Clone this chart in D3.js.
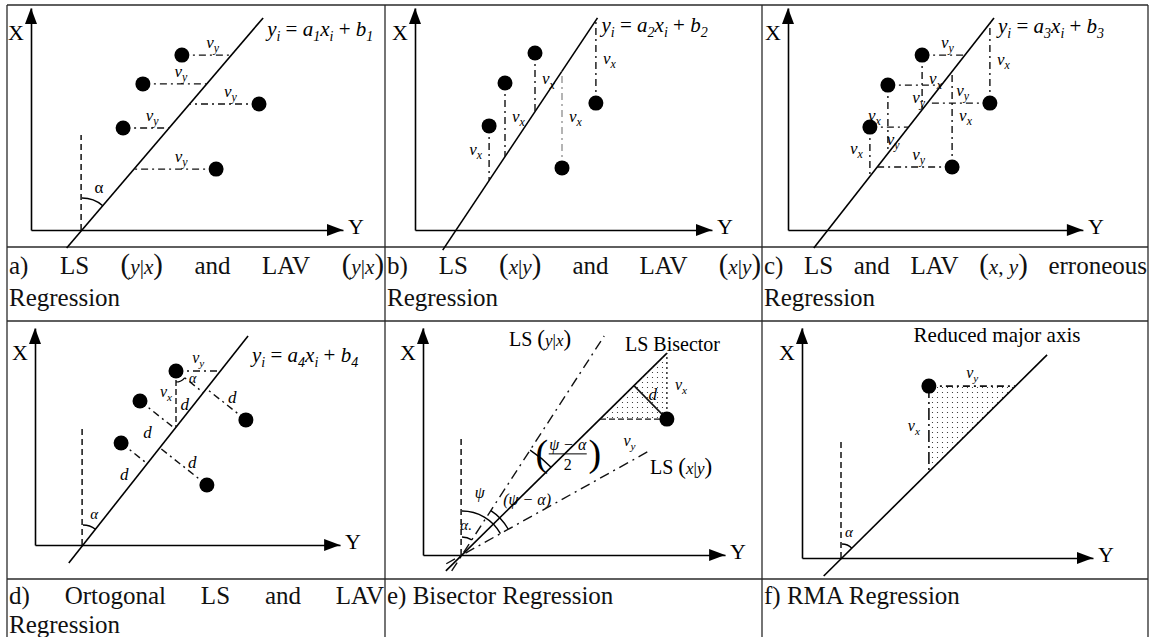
<!DOCTYPE html>
<html>
<head>
<meta charset="utf-8">
<script src="https://cdn.jsdelivr.net/npm/d3@7"></script>
<style>
body { margin: 0; background: #fff; }
svg { display: block; font-family: "Liberation Serif", "Times New Roman", serif; }
</style>
</head>
<body>
<svg width="1153" height="637"></svg>
<script>
// ---- data (panel units; horizontal = Y axis, vertical = X axis) ----
const ptsA = [[5.03, 5.83], [3.73, 4.87], [7.6, 4.2], [3.07, 3.4], [6.17, 2.03]];
const ptsB = [[4.0, 5.9], [3.0, 4.9], [2.47, 3.47], [6.03, 4.23], [4.9, 2.07]];
const ptsC = [[4.47, 5.83], [3.33, 4.83], [6.73, 4.23], [2.73, 3.43], [5.47, 2.1]];
const ptsD = [[4.7, 5.8], [3.5, 4.8], [7.03, 4.17], [2.87, 3.4], [5.73, 2.0]];
const ptsE = [[8.13, 4.53]];
const ptsF = [[4.23, 5.73]];

const slopes = [1.171, 1.5, 1.277, 1.267, 0.985, 0.99];
const crossings = [1.7, 1.37, 1.33, 1.6, 1.3, 1.33];
const lineEnds = [[-0.6, 7.07], [-0.67, 7.07], [-0.6, 7.07], [-0.6, 6.97], [-0.53, 6.73], [-0.6, 6.77]];
const lsYX = { slope: 1.54, top: 7.3 };
const lsXY = { slope: 0.556, top: 3.47 };
const axisLen = [[10.4, 7.4], [9.9, 7.4], [9.83, 7.4], [10.17, 7.23], [10.07, 7.57], [9.7, 7.67]];
const guideTop = [3.17, null, null, 3.97, 3.97, 3.9];
const eqIndex = ['1', '2', '3', '4'];

const capWords = [
  ['a)', 'LS', '(y|x)', 'and', 'LAV', '(y|x)'],
  ['b)', 'LS', '(x|y)', 'and', 'LAV', '(x|y)'],
  ['c)', 'LS', 'and', 'LAV', '(x, y)', 'erroneous'],
  ['d)', 'Ortogonal', 'LS', 'and', 'LAV'],
  ['e) Bisector Regression'],
  ['f) RMA Regression']
];
const capLine2 = ['Regression', 'Regression', 'Regression', 'Regression', '', ''];

// ---- layout ----
const unit = 30;
const origins = [[31, 230], [415, 230], [788, 230], [35, 545], [423, 555], [802, 558]];
const cols = [7, 385, 762, 1148];
const rows = [5, 247, 321, 579, 637];
const capBase = [[274, 306], [604, 633]];
const eqDy = [18, 14, 15, 26];
const vySide = [[-1, -1, -1, -1, -1], null, [-1, 1, -1, 1, -1]];
const vxSide = [null, [1, 1, -1, 1, 1], [1, -1, 1, -1, 1]];
const dNudge = [[-5, 23], [-10, 18], [6, -6], [-10, 22], [9, -3]];
const dashDot = '7,4,2,4';

const svg = d3.select('svg');
const defs = svg.append('defs');
defs.append('pattern').attr('id', 'dots').attr('width', 5).attr('height', 5)
  .attr('patternUnits', 'userSpaceOnUse')
  .append('circle').attr('cx', 2.5).attr('cy', 2.5).attr('r', 0.6).attr('fill', '#222');

// table
const grid = svg.append('g').attr('stroke', '#2a2a2a').attr('stroke-width', 1.3);
cols.forEach(x => grid.append('line').attr('x1', x).attr('x2', x).attr('y1', rows[0]).attr('y2', 637));
rows.slice(0, 4).forEach(y => grid.append('line').attr('x1', cols[0]).attr('x2', cols[3]).attr('y1', y).attr('y2', y));

function seg(g, xs, ys, a, b, dash, w = 1.4, col = '#111') {
  return g.append('line')
    .attr('x1', xs(a[0])).attr('y1', ys(a[1]))
    .attr('x2', xs(b[0])).attr('y2', ys(b[1]))
    .attr('stroke', col).attr('stroke-width', w)
    .attr('stroke-dasharray', dash || null);
}

function vlab(g, x, y, sub, anchor = 'middle', size = 17) {
  const t = g.append('text').attr('x', x).attr('y', y).attr('text-anchor', anchor)
    .attr('font-style', 'italic').attr('font-size', size);
  t.append('tspan').text('v');
  t.append('tspan').attr('font-size', size * 0.7).attr('dy', size * 0.25).text(sub);
  return t;
}

function mathWord(t, w, size) {
  for (const ch of w) {
    const s = t.append('tspan');
    if (ch === '(' || ch === ')') s.attr('font-size', size * 1.15).attr('font-weight', 300).text(ch);
    else if (/[a-z]/.test(ch)) s.attr('font-style', 'italic').attr('font-size', size * 0.85).text(ch);
    else s.attr('font-size', size * 0.85).text(ch === ' ' ? '\u00a0' : ch);
  }
}

function equation(g, x, y, k) {
  const t = g.append('text').attr('x', x).attr('y', y).attr('font-size', 21);
  const parts = [['y', 'i'], ['i', 's'], [' = ', 'n'], ['a', 'i'], [k, 's'], ['x', 'i'], ['i', 's'], [' + ', 'n'], ['b', 'i'], [k, 's']];
  let sub = false;
  parts.forEach(([txt, kind]) => {
    const s = t.append('tspan').text(txt.replace(/ /g, '\u00a0'));
    if (kind === 's') { s.attr('font-size', 14).attr('font-style', 'italic'); if (!sub) s.attr('dy', 5); sub = true; }
    else {
      if (kind === 'i') s.attr('font-style', 'italic');
      if (sub) s.attr('dy', -5);
      sub = false;
    }
  });
}

function arcPath(r, a0, a1) {
  return d3.arc().innerRadius(r).outerRadius(r).startAngle(a0).endAngle(a1)();
}
const dirAngle = m => Math.atan2(1, m);
const rad = d => d * Math.PI / 180;

function foot(m, c, p) {
  const uf = (p[0] + m * (p[1] + m * c)) / (1 + m * m);
  return [uf, m * (uf - c)];
}

const panels = origins.map(([ox, oy], i) => {
  const g = svg.append('g');
  const xs = d3.scaleLinear().domain([0, axisLen[i][0]]).range([ox, ox + axisLen[i][0] * unit]);
  const ys = d3.scaleLinear().domain([0, axisLen[i][1]]).range([oy, oy - axisLen[i][1] * unit]);
  // axes
  g.append('g').attr('transform', `translate(0,${oy})`)
    .call(d3.axisBottom(xs).tickValues([]).tickSizeOuter(0))
    .select('.domain').attr('stroke', '#000').attr('stroke-width', 1.6);
  g.append('g').attr('transform', `translate(${ox},0)`)
    .call(d3.axisLeft(ys).tickValues([]).tickSizeOuter(0))
    .select('.domain').attr('stroke', '#000').attr('stroke-width', 1.6);
  const tipX = xs.range()[1], tipY = ys.range()[1];
  g.append('path').attr('d', `M${tipX},${oy}L${tipX - 16},${oy - 6}L${tipX - 16},${oy + 6}Z`);
  g.append('path').attr('d', `M${ox},${tipY}L${ox - 6},${tipY + 16}L${ox + 6},${tipY + 16}Z`);
  g.append('text').attr('x', ox - 15).attr('y', tipY + 32).attr('text-anchor', 'middle').attr('font-size', 22).text('X');
  g.append('text').attr('x', tipX + 5).attr('y', oy + 4).attr('font-size', 22).text('Y');
  // dashed guide
  if (guideTop[i] !== null) {
    seg(g, xs, ys, [crossings[i] - 0.03, 0], [crossings[i] - 0.03, guideTop[i]], '6,4', 1.5);
  }
  return { g, xs, ys, ox, oy };
});

const atV = (i, v) => crossings[i] + v / slopes[i];
const atU = (i, u) => slopes[i] * (u - crossings[i]);

// regression lines (a-d, f)
[0, 1, 2, 3, 5].forEach(i => {
  const { g, xs, ys } = panels[i];
  const pts = lineEnds[i].map(v => [atV(i, v), v]);
  g.append('path').attr('d', d3.line().x(d => xs(d[0])).y(d => ys(d[1]))(pts))
    .attr('stroke', '#000').attr('stroke-width', 1.6).attr('fill', 'none');
  if (i < 4) {
    const top = pts[1];
    equation(g, xs(top[0]) + 4, ys(top[1]) + eqDy[i], eqIndex[i]);
  }
  // alpha angle at the axis crossing
  if (i === 0 || i === 3 || i === 5) {
    const r = [32, 20, 14][[0, 3, 5].indexOf(i)];
    const lr = [45, 33, 27][[0, 3, 5].indexOf(i)];
    const la = [22, 20, 15][[0, 3, 5].indexOf(i)];
    const cx = xs(crossings[i]), cy = ys(0);
    g.append('path').attr('transform', `translate(${cx},${cy})`)
      .attr('d', arcPath(r, 0, dirAngle(slopes[i]))).attr('fill', 'none').attr('stroke', '#000').attr('stroke-width', 1.4);
    g.append('text').attr('x', cx + lr * Math.sin(rad(la))).attr('y', cy - lr * Math.cos(rad(la)) + 5)
      .attr('text-anchor', 'middle').attr('font-size', i === 0 ? 17 : 15).attr('font-style', i === 0 ? null : 'italic').text('α');
  }
});

// a) horizontal residuals
(() => {
  const { g, xs, ys } = panels[0];
  ptsA.forEach((p, k) => {
    const e = [atV(0, p[1]), p[1]];
    seg(g, xs, ys, p, e, dashDot);
    const side = vySide[0][k];
    vlab(g, (xs(p[0]) + xs(e[0])) / 2 + 6, ys(p[1]) + (side < 0 ? -7 : 18), 'y');
  });
})();

// b) vertical residuals
(() => {
  const { g, xs, ys } = panels[1];
  ptsB.forEach((p, k) => {
    const e = [p[0], atU(1, p[0])];
    seg(g, xs, ys, p, e, dashDot, k === 4 ? 1.1 : 1.4, k === 4 ? '#777' : '#111');
    const side = vxSide[1][k];
    vlab(g, xs(p[0]) + side * 7, (ys(p[1]) + ys(e[1])) / 2 + 2, 'x', side > 0 ? 'start' : 'end');
  });
})();

// c) both residuals
(() => {
  const { g, xs, ys } = panels[2];
  ptsC.forEach((p, k) => {
    const eh = [atV(2, p[1]), p[1]];
    const ev = [p[0], atU(2, p[0])];
    seg(g, xs, ys, p, eh, dashDot);
    seg(g, xs, ys, p, ev, dashDot);
    const sy = vySide[2][k];
    vlab(g, (xs(p[0]) + xs(eh[0])) / 2 + 4, ys(p[1]) + (sy < 0 ? -7 : 18), 'y');
    const sx = vxSide[2][k];
    vlab(g, xs(p[0]) + sx * 7, (ys(p[1]) + ys(ev[1])) / 2 + 2, 'x', sx > 0 ? 'start' : 'end');
  });
})();

// d) orthogonal residuals
(() => {
  const { g, xs, ys } = panels[3];
  const m = slopes[3], c = crossings[3];
  ptsD.forEach((p, k) => {
    const f = foot(m, c, p);
    seg(g, xs, ys, p, f, dashDot);
    const mx = (xs(p[0]) + xs(f[0])) / 2, my = (ys(p[1]) + ys(f[1])) / 2;
    g.append('text').attr('x', mx + dNudge[k][0]).attr('y', my + dNudge[k][1] + 5)
      .attr('text-anchor', 'middle').attr('font-style', 'italic').attr('font-size', 17).text('d');
  });
  const p = ptsD[0];
  const eh = [atV(3, p[1]), p[1]], ev = [p[0], atU(3, p[0])];
  seg(g, xs, ys, p, eh, dashDot);
  seg(g, xs, ys, p, ev, '6,3');
  vlab(g, (xs(p[0]) + xs(eh[0])) / 2, ys(p[1]) - 8, 'y', 'middle', 16);
  vlab(g, xs(p[0]) - 4, (ys(p[1]) + ys(ev[1])) / 2 - 2, 'x', 'end', 16);
  const f = foot(m, c, p);
  const a0 = Math.atan2(xs(f[0]) - xs(p[0]), -(ys(f[1]) - ys(p[1])));
  g.append('path').attr('transform', `translate(${xs(p[0])},${ys(p[1])})`)
    .attr('d', arcPath(11, a0, Math.PI)).attr('fill', 'none').attr('stroke', '#000').attr('stroke-width', 1.2);
  g.append('text').attr('x', xs(p[0]) + 19 * Math.sin(rad(118))).attr('y', ys(p[1]) - 19 * Math.cos(rad(118)) + 3)
    .attr('text-anchor', 'middle').attr('font-style', 'italic').attr('font-size', 14).text('α');
})();

// e) bisector
(() => {
  const { g, xs, ys } = panels[4];
  const c = crossings[4], m = slopes[4];
  const lineThrough = (mm, v0, v1) => d3.line().x(d => xs(d[0])).y(d => ys(d[1]))([[c + v0 / mm, v0], [c + v1 / mm, v1]]);
  g.append('path').attr('d', lineThrough(lsYX.slope, lineEnds[4][0], lsYX.top)).attr('stroke', '#111').attr('stroke-width', 1.4).attr('stroke-dasharray', '10,5,2,5').attr('fill', 'none');
  g.append('path').attr('d', lineThrough(lsXY.slope, lineEnds[4][0] * 0.55, lsXY.top)).attr('stroke', '#111').attr('stroke-width', 1.4).attr('stroke-dasharray', '10,5,2,5').attr('fill', 'none');
  g.append('path').attr('d', lineThrough(m, lineEnds[4][0], lineEnds[4][1])).attr('stroke', '#000').attr('stroke-width', 1.6).attr('fill', 'none');

  const p = ptsE[0];
  const eh = [atV(4, p[1]), p[1]], ev = [p[0], atU(4, p[0])];
  g.append('path').attr('d', d3.line().x(d => xs(d[0])).y(d => ys(d[1]))([eh, p, ev]) + 'Z').attr('fill', 'url(#dots)');
  seg(g, xs, ys, eh, p, '6,3', 1.4);
  seg(g, xs, ys, p, ev, '2,3', 1.3);
  const f = foot(m, c, p);
  seg(g, xs, ys, p, f, null, 1.6);
  g.append('text').attr('x', (xs(p[0]) + xs(f[0])) / 2 - 2).attr('y', (ys(p[1]) + ys(f[1])) / 2 - 2)
    .attr('font-style', 'italic').attr('font-size', 17).text('d');
  vlab(g, xs(p[0]) + 8, (ys(p[1]) + ys(ev[1])) / 2 + 4, 'x', 'start', 16);
  vlab(g, (xs(p[0]) + xs(eh[0])) / 2 - 4, ys(p[1]) + 27, 'y', 'middle', 16);

  // angles about the common point
  const cx = xs(c), cy = ys(0);
  const aYX = dirAngle(lsYX.slope), aXY = dirAngle(lsXY.slope), aB = dirAngle(m);
  const arc = (r, s, e) => g.append('path').attr('transform', `translate(${cx},${cy})`).attr('d', arcPath(r, s, e))
    .attr('fill', 'none').attr('stroke', '#000').attr('stroke-width', 1.4);
  arc(18, 0, aYX);
  arc(44, 0, aXY);
  arc(53, aYX, aXY);
  arc(125, aYX, aB);
  const polar = (r, deg) => [cx + r * Math.sin(rad(deg)), cy - r * Math.cos(rad(deg))];
  let q = polar(30, 8);
  g.append('text').attr('x', q[0]).attr('y', q[1] + 5).attr('text-anchor', 'middle').attr('font-style', 'italic').attr('font-size', 15).text('α.');
  q = polar(64, 16);
  g.append('text').attr('x', q[0]).attr('y', q[1] + 5).attr('text-anchor', 'middle').attr('font-style', 'italic').attr('font-size', 16).text('ψ');
  q = polar(85, 50);
  g.append('text').attr('x', q[0]).attr('y', q[1] + 5).attr('text-anchor', 'middle').attr('font-style', 'italic').attr('font-size', 16).text('(ψ − α)');
  q = polar(147, 46);
  g.append('text').attr('x', q[0]).attr('y', q[1] - 3).attr('text-anchor', 'middle').attr('font-style', 'italic').attr('font-size', 16).text('ψ − α');
  g.append('line').attr('x1', q[0] - 19).attr('x2', q[0] + 19).attr('y1', q[1] + 1).attr('y2', q[1] + 1).attr('stroke', '#000').attr('stroke-width', 1);
  g.append('text').attr('x', q[0]).attr('y', q[1] + 17).attr('text-anchor', 'middle').attr('font-size', 16).text('2');
  g.append('text').attr('x', q[0] - 26).attr('y', q[1] + 13).attr('text-anchor', 'middle').attr('font-size', 38).attr('font-weight', 300).text('(');
  g.append('text').attr('x', q[0] + 27).attr('y', q[1] + 13).attr('text-anchor', 'middle').attr('font-size', 38).attr('font-weight', 300).text(')');

  // line names
  const t1 = g.append('text').attr('x', 509).attr('y', 346).attr('font-size', 20);
  t1.append('tspan').text('LS\u00a0');
  mathWord(t1, '(y|x)', 20);
  g.append('text').attr('x', 625).attr('y', 351).attr('font-size', 20).text('LS Bisector');
  const t3 = g.append('text').attr('x', 650).attr('y', 474).attr('font-size', 20);
  t3.append('tspan').text('LS\u00a0');
  mathWord(t3, '(x|y)', 20);
})();

// f) RMA
(() => {
  const { g, xs, ys } = panels[5];
  const p = ptsF[0];
  const eh = [atV(5, p[1]), p[1]], ev = [p[0], atU(5, p[0])];
  g.append('path').attr('d', d3.line().x(d => xs(d[0])).y(d => ys(d[1]))([p, eh, ev]) + 'Z').attr('fill', 'url(#dots)');
  seg(g, xs, ys, p, eh, dashDot, 1.6);
  seg(g, xs, ys, p, ev, '12,4,2,4', 1.6);
  vlab(g, (xs(p[0]) + xs(eh[0])) / 2, ys(p[1]) - 8, 'y', 'middle', 16);
  vlab(g, xs(p[0]) - 9, (ys(p[1]) + ys(ev[1])) / 2 + 2, 'x', 'end', 16);
  g.append('text').attr('x', 997).attr('y', 342).attr('text-anchor', 'middle').attr('font-size', 21).text('Reduced major axis');
})();

// points
[ptsA, ptsB, ptsC, ptsD, ptsE, ptsF].forEach((pts, i) => {
  const { g, xs, ys } = panels[i];
  g.selectAll('circle.pt').data(pts).join('circle').attr('class', 'pt')
    .attr('cx', d => xs(d[0])).attr('cy', d => ys(d[1])).attr('r', 7.5).attr('fill', '#000');
});

// captions
const capG = svg.append('g').attr('font-size', 25).attr('fill', '#111');
capWords.forEach((words, k) => {
  const col = k % 3, row = Math.floor(k / 3);
  const x0 = cols[col] + 2, x1 = cols[col + 1] - 1;
  const [b1, b2] = capBase[row];
  if (words.length === 1) {
    capG.append('text').attr('x', x0).attr('y', b1).text(words[0]);
  } else {
    const ts = words.map(w => {
      const t = capG.append('text').attr('y', b1);
      if (/^\(.*\)$/.test(w)) mathWord(t, w, 25); else t.text(w);
      return t;
    });
    const widths = ts.map(t => t.node().getComputedTextLength());
    const gap = (x1 - x0 - d3.sum(widths)) / (words.length - 1);
    let x = x0;
    ts.forEach((t, j) => { t.attr('x', x); x += widths[j] + gap; });
  }
  if (capLine2[k]) capG.append('text').attr('x', x0).attr('y', b2).text(capLine2[k]);
});
</script>
</body>
</html>
